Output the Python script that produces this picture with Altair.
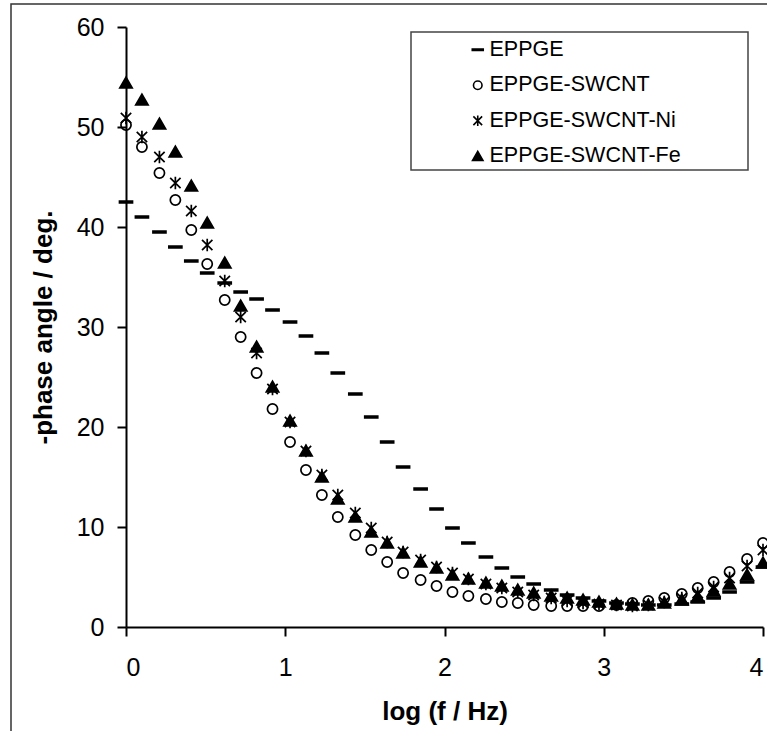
import altair as alt
import pandas as pd

# ---- data ----
log_f = [0.00, 0.10, 0.21, 0.31, 0.41, 0.51, 0.62, 0.72, 0.82, 0.92,
         1.03, 1.13, 1.23, 1.33, 1.44, 1.54, 1.64, 1.74, 1.85, 1.95,
         2.05, 2.15, 2.26, 2.36, 2.46, 2.56, 2.67, 2.77, 2.87, 2.97,
         3.08, 3.18, 3.28, 3.38, 3.49, 3.59, 3.69, 3.79, 3.90, 4.00]

eppge = [42.5, 41.0, 39.5, 38.0, 36.6, 35.4, 34.4, 33.5, 32.8, 31.7,
         30.5, 29.1, 27.4, 25.4, 23.3, 21.0, 18.5, 16.0, 13.8, 11.8,
         9.9, 8.4, 7.0, 5.9, 5.0, 4.3, 3.7, 3.2, 2.9, 2.6,
         2.4, 2.3, 2.2, 2.2, 2.3, 2.5, 2.9, 3.5, 4.5, 6.0]

swcnt = [50.2, 48.0, 45.4, 42.7, 39.7, 36.3, 32.7, 29.0, 25.4, 21.8,
         18.5, 15.7, 13.2, 11.0, 9.2, 7.7, 6.5, 5.4, 4.7, 4.1,
         3.5, 3.1, 2.8, 2.5, 2.4, 2.2, 2.1, 2.1, 2.1, 2.1,
         2.2, 2.4, 2.6, 2.9, 3.3, 3.9, 4.5, 5.5, 6.8, 8.4]

swcnt_ni = [50.9, 49.0, 47.0, 44.4, 41.6, 38.2, 34.6, 31.0, 27.4, 23.8,
            20.5, 17.6, 15.2, 13.2, 11.4, 9.9, 8.5, 7.5, 6.7, 6.0,
            5.4, 4.8, 4.3, 3.9, 3.5, 3.2, 2.9, 2.6, 2.4, 2.3,
            2.2, 2.1, 2.2, 2.5, 2.9, 3.4, 4.0, 4.9, 6.1, 7.7]

swcnt_fe = [54.4, 52.7, 50.3, 47.5, 44.1, 40.4, 36.4, 32.1, 28.0, 24.0,
            20.6, 17.6, 15.0, 12.8, 11.0, 9.5, 8.4, 7.4, 6.5, 5.9,
            5.2, 4.8, 4.4, 4.1, 3.7, 3.4, 3.1, 2.9, 2.7, 2.5,
            2.3, 2.2, 2.2, 2.4, 2.7, 3.0, 3.6, 4.3, 5.2, 6.4]

series_names = ["EPPGE", "EPPGE-SWCNT", "EPPGE-SWCNT-Ni", "EPPGE-SWCNT-Fe"]
series_values = [eppge, swcnt, swcnt_ni, swcnt_fe]

x_ticks = [0, 1, 2, 3, 4]
y_ticks = [0, 10, 20, 30, 40, 50, 60]

rows = []
for order, (name, vals) in enumerate(zip(series_names, series_values)):
    for xv, yv in zip(log_f, vals):
        rows.append({"series": name, "x": xv, "y": yv, "o": order})
df = pd.DataFrame(rows)

# ---- marker shapes ----
dash = "M-1,-0.15L1,-0.15L1,0.15L-1,0.15Z"
circ = "M0.78,0A0.78,0.78,0,1,1,-0.78,0A0.78,0.78,0,1,1,0.78,0Z"
star = "M0,-0.95L0,0.95M-0.8,-0.8L0.8,0.8M-0.8,0.8L0.8,-0.8"
tri = "M0,-0.9L0.95,0.75L-0.95,0.75Z"
shapes = [dash, circ, star, tri]
fills = ["black", "transparent", "transparent", "black"]
strokes = ["black", "black", "black", "black"]

FONT = "Liberation Sans"
W, H = 637, 600

legend = alt.Legend(
    title=None, orient="none", legendX=341, legendY=12,
    labelFont=FONT, labelFontSize=21.5, labelColor="black", labelOffset=1,
    labelLimit=0, rowPadding=12.5, symbolSize=120, symbolStrokeColor="black",
    symbolStrokeWidth=1.6, padding=0,
)

points = alt.Chart(df).mark_point(size=169, strokeWidth=1.7, opacity=1,
                                  filled=False).encode(
    x=alt.X("x:Q", scale=alt.Scale(domain=[0, 4], nice=False, zero=False),
            axis=alt.Axis(values=x_ticks, format="d", title="log (f / Hz)",
                          titleY=84, titleBaseline="middle",
                          labelPadding=19)),
    y=alt.Y("y:Q", scale=alt.Scale(domain=[0, 60], nice=False),
            axis=alt.Axis(values=y_ticks, format="d", title="-phase angle / deg.",
                          titleX=-83, titleY=300, titleBaseline="middle",
                          titleAngle=270, labelPadding=13)),
    shape=alt.Shape("series:N", scale=alt.Scale(domain=series_names, range=shapes),
                    legend=legend),
    fill=alt.Fill("series:N", scale=alt.Scale(domain=series_names, range=fills),
                  legend=legend),
    stroke=alt.Stroke("series:N", scale=alt.Scale(domain=series_names, range=strokes),
                      legend=legend),
    order=alt.Order("o:Q"),
)

one = pd.DataFrame({"a": [0]})

frame = alt.Chart(one).mark_rect(fill="transparent", stroke="#333333",
                                 strokeWidth=1.5).encode(
    x=alt.value(-115), x2=alt.value(W + 100),
    y=alt.value(-23), y2=alt.value(H + 200),
)

legend_box = alt.Chart(one).mark_rect(fill="white", stroke="#444444",
                                      strokeWidth=1.5).encode(
    x=alt.value(285), x2=alt.value(622),
    y=alt.value(5), y2=alt.value(143),
)

chart = alt.layer(frame, legend_box, points).properties(
    width=W, height=H,
    padding={"left": 126, "top": 27, "right": 4, "bottom": 104},
    autosize=alt.AutoSizeParams(type="none"),
).configure_view(stroke=None).configure_axis(
    grid=False, domainColor="black", domainWidth=2, tickColor="black",
    tickWidth=2, tickSize=9, labelFont=FONT, labelFontSize=25,
    labelColor="black", titleFont=FONT, titleFontSize=26,
    titleFontWeight="bold", titleColor="black",
)

chart.save("out.html", embed_options={"renderer": "svg", "actions": False})
